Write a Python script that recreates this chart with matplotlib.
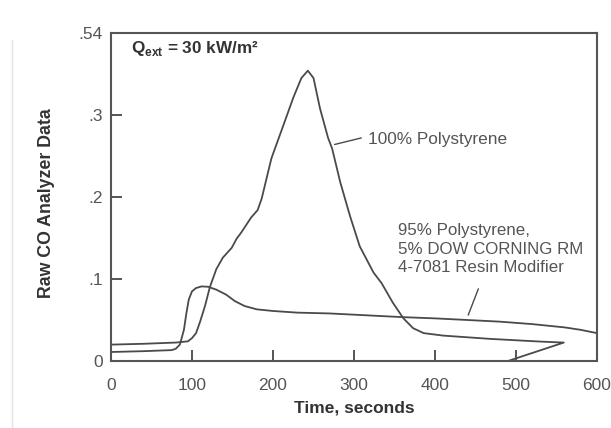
import matplotlib
matplotlib.use("Agg")
import matplotlib.pyplot as plt
from matplotlib.lines import Line2D

plt.rcParams["font.family"] = ["Liberation Sans", "DejaVu Sans"]
plt.rcParams["mathtext.fontset"] = "custom"
plt.rcParams["mathtext.rm"] = "Liberation Sans"
plt.rcParams["mathtext.bf"] = "Liberation Sans:bold"

# ---- data (time in s, raw CO signal)
t_ps = [0, 40, 80, 95, 100, 105, 110, 116, 122, 130, 138, 149, 155, 161,
        173, 181, 186, 198, 213, 225, 235, 243, 250, 258, 268, 273, 283,
        295, 307, 324, 334, 348, 361, 373, 386, 410, 468, 530, 559, 490]
co_ps = [0.020, 0.021, 0.0225, 0.024, 0.028, 0.034, 0.048, 0.067, 0.090,
         0.112, 0.126, 0.138, 0.149, 0.157, 0.175, 0.184, 0.198, 0.247,
         0.288, 0.321, 0.345, 0.354, 0.345, 0.308, 0.272, 0.259, 0.218,
         0.177, 0.140, 0.108, 0.095, 0.071, 0.052, 0.040, 0.034, 0.031,
         0.027, 0.0237, 0.0225, 0.0]

t_blend = [0, 40, 75, 80, 85, 90, 93, 96, 100, 105, 112, 120, 130, 142,
           153, 165, 180, 200, 230, 270, 300, 330, 360, 400, 440, 480, 520,
           560, 580, 600]
co_blend = [0.011, 0.012, 0.0133, 0.015, 0.020, 0.038, 0.058, 0.075, 0.085,
            0.089, 0.091, 0.0905, 0.087, 0.081, 0.073, 0.067, 0.063, 0.061,
            0.059, 0.058, 0.0565, 0.055, 0.0535, 0.052, 0.050, 0.048, 0.045,
            0.041, 0.038, 0.034]

x_ticks = [0, 100, 200, 300, 400, 500, 600]
y_ticks = [0, 0.1, 0.2, 0.3, 0.4]
y_tick_labels = ["0", ".1", ".2", ".3", ".54"]

line_color = "#4a4a4a"
text_color = "#555555"

fig = plt.figure(figsize=(6.11, 4.28), dpi=100)
ax = fig.add_axes([0.1817, 0.1565, 0.7954, 0.7665])

ax.plot(t_ps, co_ps, color=line_color, linewidth=1.3, solid_joinstyle="round")
ax.plot(t_blend, co_blend, color=line_color, linewidth=1.3,
        solid_joinstyle="round")

# ---- labels with leader lines
ax.annotate("", xy=(276, 0.264), xytext=(309, 0.272),
            arrowprops=dict(arrowstyle="-", color=line_color, linewidth=1.0,
                            shrinkA=0, shrinkB=0))
ax.text(317.5, 0.270, "100% Polystyrene", ha="left", va="center",
        fontsize=12.4, color=text_color)

ax.annotate("", xy=(441, 0.056), xytext=(453.5, 0.088),
            arrowprops=dict(arrowstyle="-", color=line_color, linewidth=1.0,
                            shrinkA=0, shrinkB=0))
ax.text(354.5, 0.168,
        "95% Polystyrene,\n5% DOW CORNING RM\n4-7081 Resin Modifier",
        ha="left", va="top", fontsize=12.2, color=text_color, linespacing=1.28)

ax.text(25, 0.381, r"Q$_{\mathbf{ext}}$ = 30 kW/m²", ha="left", va="center",
        fontsize=12.3, fontweight="bold", color="#333333")

# ---- axes
ax.set_xlim(0, 600)
ax.set_ylim(0, 0.4)
ax.set_xticks(x_ticks)
ax.set_yticks(y_ticks)
ax.set_yticklabels(y_tick_labels)
ax.tick_params(direction="in", length=8, width=1.4, color="#555555",
               labelsize=12.5, labelcolor=text_color)
ax.tick_params(axis="x", pad=12)
ax.tick_params(axis="y", pad=6)
for spine in ax.spines.values():
    spine.set_linewidth(1.5)
    spine.set_color("#555555")

ax.set_xlabel("Time, seconds", fontsize=12.5, fontweight="bold",
              color="#333333")
ax.xaxis.set_label_coords(0.5, -0.12)
ax.set_ylabel("Raw CO Analyzer Data", fontsize=12.8, fontweight="bold",
              color="#333333")
ax.yaxis.set_label_coords(-0.115, 0.48)

# faint page edge on the left
fig.add_artist(Line2D([12 / 611, 12 / 611], [0, 1 - 40 / 428],
                      color="#e2e2e2", linewidth=1.0))

fig.savefig("out.png", dpi=100)
